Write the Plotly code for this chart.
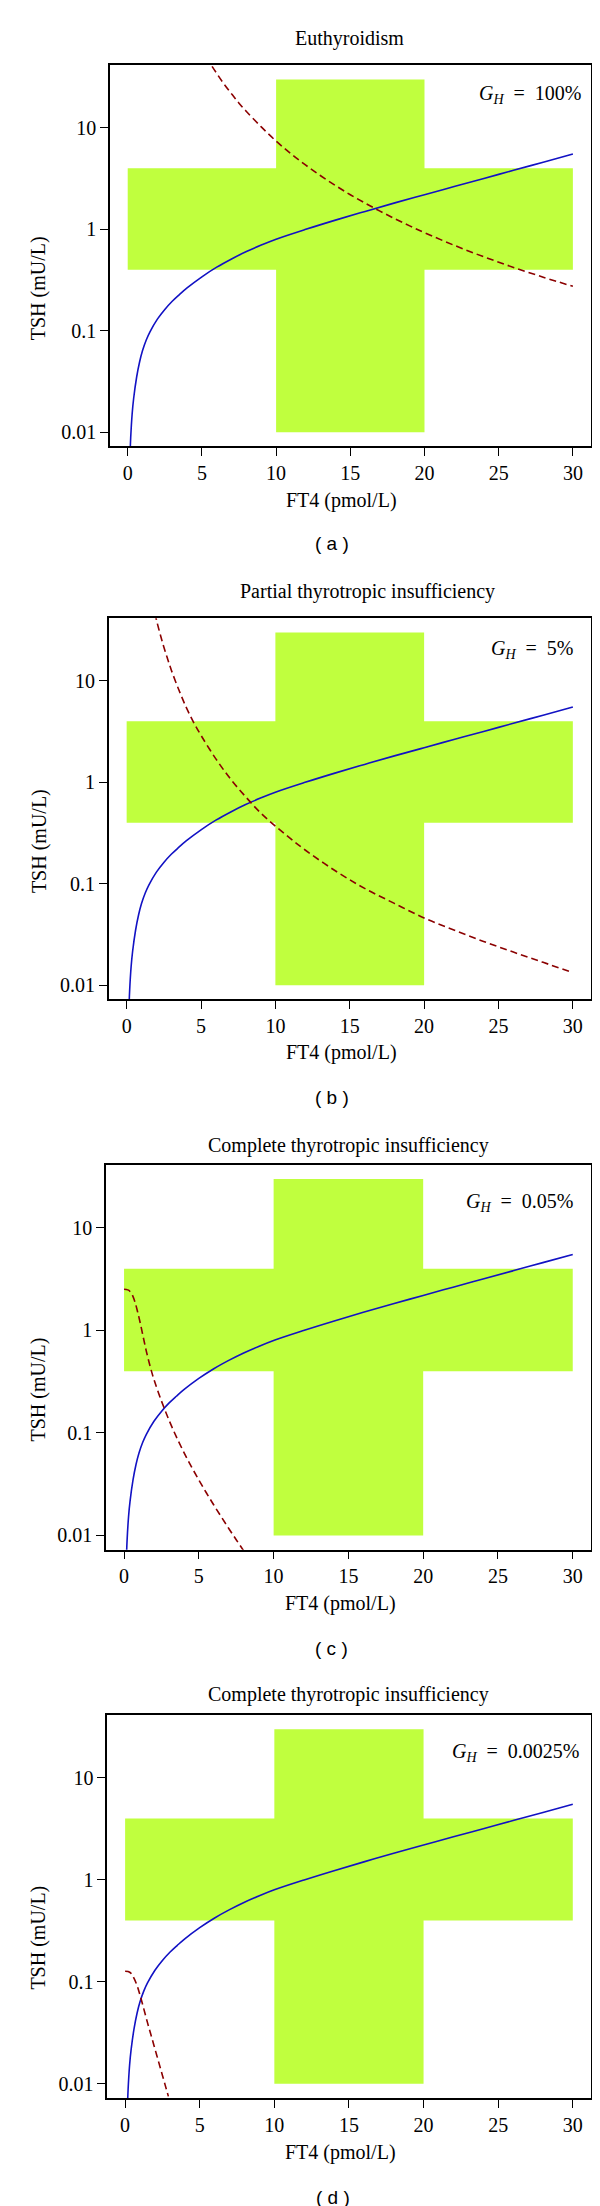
import plotly.graph_objects as go

# ---------------- data ----------------
FT4_NORMAL = [10, 20]      # pmol/L, vertical bar of the cross
TSH_NORMAL = [0.4, 4]      # mU/L, horizontal bar of the cross
FT4_SPAN = [0, 30]
TSH_SPAN = [0.01, 30]

# blue curve (same in every panel)
blue_x = [0.15, 0.2, 0.3, 0.4, 0.6, 0.8, 1.0, 1.25, 1.5, 2.0, 2.5, 3.0, 3.5, 4.0, 5.0,
          6.0, 7.0, 8.0, 9.0, 10, 12, 14, 16, 18, 20, 22, 24, 26, 28, 30]
blue_y = [0.0055, 0.00875, 0.0152, 0.0215, 0.0348, 0.0492, 0.0637, 0.081, 0.0975, 0.13,
          0.162, 0.195, 0.228, 0.264, 0.34, 0.423, 0.51, 0.603, 0.698, 0.798, 0.998, 1.23,
          1.50, 1.82, 2.19, 2.64, 3.17, 3.81, 4.58, 5.51]

# dashed curves, one per panel
red_a_x = [5.3, 5.6, 6, 6.5, 7, 7.5, 8, 9, 10, 11, 12, 13, 14, 15, 16, 17, 18, 19, 20,
           22, 24, 26, 28, 30]
red_a_y = [49.7, 42.1, 34.3, 26.9, 21.6, 17.5, 14.5, 10.2, 7.4, 5.56, 4.28, 3.37, 2.7,
           2.19, 1.81, 1.51, 1.27, 1.08, 0.925, 0.695, 0.535, 0.421, 0.337, 0.274]

red_b_x = [1.9, 2.0, 2.25, 2.5, 2.75, 3.0, 3.5, 4.0, 4.5, 5, 6, 7, 8, 9, 10, 11, 12, 14,
           16, 18, 20, 22, 24, 26, 28, 30]
red_b_y = [46.5, 40, 29, 21.5, 16.5, 12.8, 8.2, 5.5, 3.9, 2.9, 1.7, 1.07, 0.72, 0.5, 0.37,
           0.28, 0.215, 0.135, 0.09, 0.064, 0.046, 0.035, 0.027, 0.0212, 0.0168, 0.0133]

red_c_x = [0, 0.15, 0.3, 0.5, 0.7, 0.9, 1.1, 1.3, 1.5, 1.75, 2.0, 2.5, 3.0, 3.5, 4.0, 4.5,
           5.0, 5.5, 6.0, 6.5, 7.0, 7.5, 8.0]
red_c_y = [2.52, 2.51, 2.466, 2.29, 1.95, 1.53, 1.15, 0.838, 0.618, 0.443, 0.332, 0.205,
           0.134, 0.0914, 0.0647, 0.0469, 0.0348, 0.0261, 0.0198, 0.0152, 0.0117, 0.00908,
           0.00708]

red_d_x = [0, 0.2, 0.4, 0.6, 0.8, 1.0, 1.2, 1.5, 1.8, 2.1, 2.4, 2.7, 2.9]
red_d_y = [0.127, 0.126, 0.121, 0.108, 0.092, 0.074, 0.058, 0.0398, 0.0279, 0.0195,
           0.01365, 0.00955, 0.00753]

titles = ["Euthyroidism", "Partial thyrotropic insufficiency",
          "Complete thyrotropic insufficiency", "Complete thyrotropic insufficiency"]
gh_values = ["100%", "5%", "0.05%", "0.0025%"]
panel_letters = ["a", "b", "c", "d"]
x_ticks = [0, 5, 10, 15, 20, 25, 30]
y_ticks = [0.01, 0.1, 1, 10]
y_ticktext = ["0.01", "0.1", "1", "10"]
x_label = "FT4 (pmol/L)"
y_label = "TSH (mU/L)"

red_x = [red_a_x, red_b_x, red_c_x, red_d_x]
red_y = [red_a_y, red_b_y, red_c_y, red_d_y]

# ---------------- layout (pixel geometry) ----------------
W, H = 600, 2206
frames = [  # left, right, top, bottom
    (101.9, 582.7, 57.3, 438.3),
    (100.8, 582.7, 610.3, 991.3),
    (98.1, 582.7, 1156.7, 1541.7),
    (99.2, 582.7, 1707.0, 2090.0),
]
title_pos = [(342, 30.7), (359.6, 583.7), (340.4, 1137.3), (340.8, 1686.7)]
gh_pos = [(576, 86), (568, 642), (568, 1194), (573.8, 1744.3)]
xlab_pos = [(333.7, 492), (333.7, 1044.7), (332.3, 1595), (332.9, 2144.3)]
ylab_pos = [(30.8, 280.5), (30.8, 833.3), (30.8, 1381.7), (30.8, 1929.8)]
letter_pos = [(323.8, 536), (323.8, 1089), (323.0, 1640), (324.8, 2189.3)]

GREEN = "#C0FF3E"
BLUE = "#1212C4"
DARKRED = "#8B0000"
SERIF = "Liberation Serif"
SANS = "Liberation Sans"

def px(x):
    return x / W

def py(y):
    return 1 - y / H

# cross polygon from the named ranges
cx = [FT4_SPAN[0], FT4_NORMAL[0], FT4_NORMAL[0], FT4_NORMAL[1], FT4_NORMAL[1], FT4_SPAN[1],
      FT4_SPAN[1], FT4_NORMAL[1], FT4_NORMAL[1], FT4_NORMAL[0], FT4_NORMAL[0], FT4_SPAN[0],
      FT4_SPAN[0]]
cy = [TSH_NORMAL[0], TSH_NORMAL[0], TSH_SPAN[0], TSH_SPAN[0], TSH_NORMAL[0], TSH_NORMAL[0],
      TSH_NORMAL[1], TSH_NORMAL[1], TSH_SPAN[1], TSH_SPAN[1], TSH_NORMAL[1], TSH_NORMAL[1],
      TSH_NORMAL[0]]

fig = go.Figure()
annotations = []
layout_axes = {}

for i in range(4):
    xs = "x" if i == 0 else f"x{i+1}"
    ys = "y" if i == 0 else f"y{i+1}"
    fig.add_trace(go.Scatter(x=cx, y=cy, mode="lines", fill="toself", fillcolor=GREEN,
                             line=dict(width=0, color=GREEN), xaxis=xs, yaxis=ys,
                             hoverinfo="skip", showlegend=False))
    fig.add_trace(go.Scatter(x=blue_x, y=blue_y, mode="lines", line=dict(color=BLUE, width=1.6),
                             line_shape="spline", xaxis=xs, yaxis=ys, showlegend=False))
    fig.add_trace(go.Scatter(x=red_x[i], y=red_y[i], mode="lines",
                             line=dict(color=DARKRED, width=1.6, dash="7px,4px"),
                             line_shape="spline", xaxis=xs, yaxis=ys, showlegend=False))

    l, r, t, b = frames[i]
    common = dict(showline=True, linecolor="black", linewidth=1.5, mirror=True,
                  ticks="outside", ticklen=8, tickwidth=1.3, tickcolor="black",
                  showgrid=False, zeroline=False,
                  tickfont=dict(family=SERIF, size=20, color="black"))
    layout_axes["xaxis" if i == 0 else f"xaxis{i+1}"] = dict(
        domain=[px(l), px(r)], range=[-1.2, 31.2], tickvals=x_ticks,
        anchor=ys, **common)
    layout_axes["yaxis" if i == 0 else f"yaxis{i+1}"] = dict(
        domain=[py(b), py(t)], type="log", range=[-2.139, 1.616],
        tickvals=y_ticks, ticktext=y_ticktext, anchor=xs, **common)

    tx, ty = title_pos[i]
    annotations.append(dict(text=titles[i], x=px(tx), y=py(ty), xref="paper", yref="paper",
                            xanchor="center", yanchor="middle", showarrow=False,
                            font=dict(family=SERIF, size=20, color="black")))
    gx, gy = gh_pos[i]
    annotations.append(dict(text=f"<i>G</i><sub><i>H</i></sub>\u2002=\u2002{gh_values[i]}",
                            x=px(gx), y=py(gy), xref="paper", yref="paper",
                            xanchor="right", yanchor="middle", showarrow=False,
                            font=dict(family=SERIF, size=20, color="black")))
    lx, ly = xlab_pos[i]
    annotations.append(dict(text=x_label, x=px(lx), y=py(ly), xref="paper", yref="paper",
                            xanchor="center", yanchor="middle", showarrow=False,
                            font=dict(family=SERIF, size=20, color="black")))
    yx, yy = ylab_pos[i]
    annotations.append(dict(text=y_label, x=px(yx), y=py(yy), xref="paper", yref="paper",
                            xanchor="center", yanchor="middle", showarrow=False, textangle=-90,
                            font=dict(family=SERIF, size=20, color="black")))
    qx, qy = letter_pos[i]
    annotations.append(dict(text=f"( {panel_letters[i]} )", x=px(qx), y=py(qy), xref="paper",
                            yref="paper", xanchor="center", yanchor="middle", showarrow=False,
                            font=dict(family=SANS, size=19, color="black")))

fig.update_layout(width=W, height=H, margin=dict(l=0, r=0, t=0, b=0),
                  paper_bgcolor="white", plot_bgcolor="white",
                  showlegend=False, annotations=annotations, **layout_axes)

fig.write_html("out.html")
